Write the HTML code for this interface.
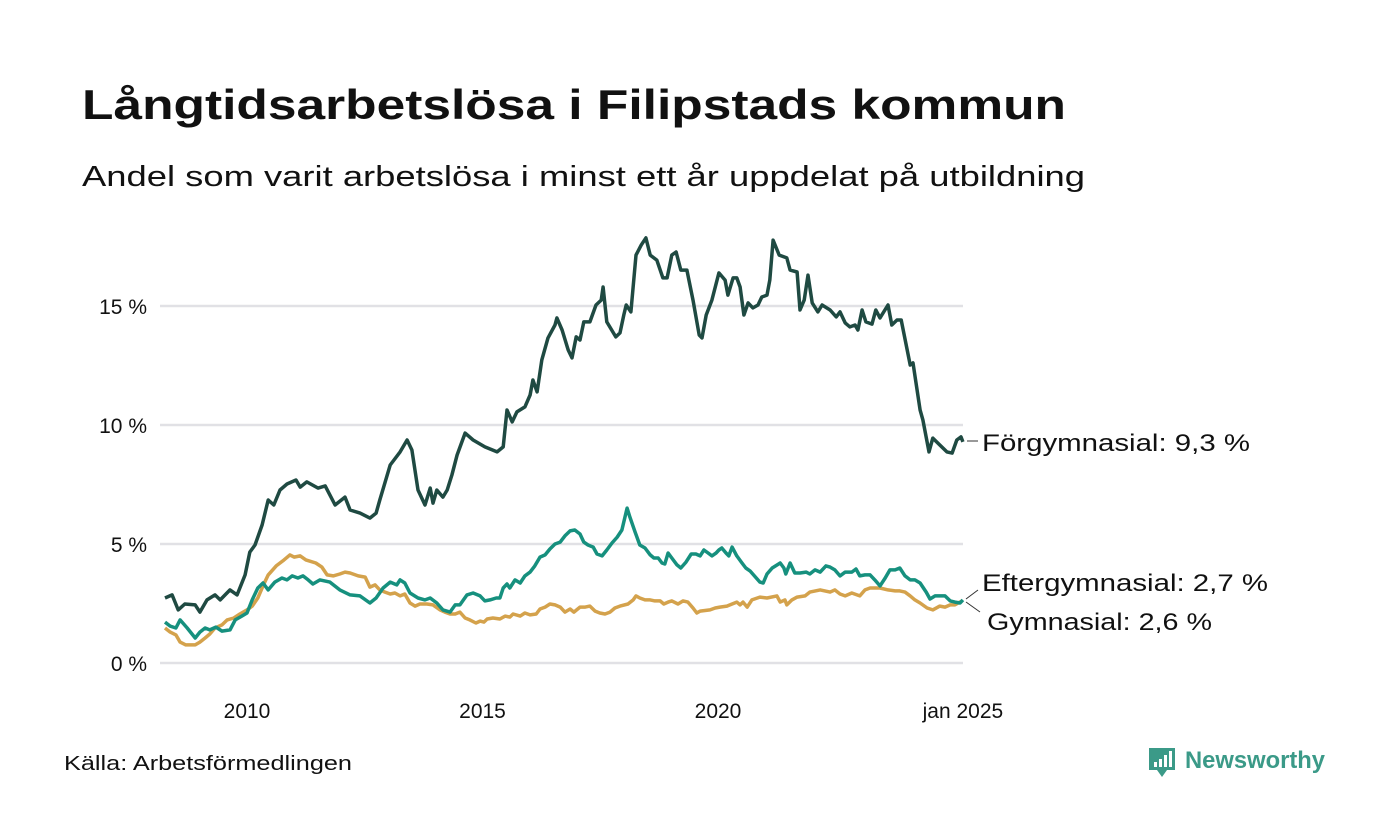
<!DOCTYPE html>
<html><head><meta charset="utf-8"><style>
html,body{margin:0;padding:0;background:#fff}
svg{display:block;font-family:"Liberation Sans",sans-serif}
</style></head><body>
<svg id="chart" width="1400" height="840" viewBox="0 0 1400 840">
<text x="82" y="119" font-size="42" font-weight="bold" fill="#111" textLength="984" lengthAdjust="spacingAndGlyphs">Långtidsarbetslösa i Filipstads kommun</text>
<text x="82" y="186" font-size="29" fill="#111" textLength="1003" lengthAdjust="spacingAndGlyphs">Andel som varit arbetslösa i minst ett år uppdelat på utbildning</text>
<g id="grid"></g>
<g id="yticks"></g>
<g id="xticks"></g>
<g id="lines"></g>
<g font-size="24" fill="#111">
<line x1="967" y1="441" x2="978" y2="441" stroke="#333" stroke-width="1"/>
<polyline points="966,599 978,590" fill="none" stroke="#333" stroke-width="1"/>
<polyline points="966,602 980,612" fill="none" stroke="#333" stroke-width="1"/>
<text x="982" y="451" textLength="268" lengthAdjust="spacingAndGlyphs">Förgymnasial: 9,3 %</text>
<text x="982" y="591" textLength="286" lengthAdjust="spacingAndGlyphs">Eftergymnasial: 2,7 %</text>
<text x="987" y="630" textLength="225" lengthAdjust="spacingAndGlyphs">Gymnasial: 2,6 %</text>
</g>
<text x="64" y="770" font-size="20" fill="#111" textLength="288" lengthAdjust="spacingAndGlyphs">Källa: Arbetsförmedlingen</text>
<g>
<path d="M1149 748 h26 v22 h-8 l-5 7 l-5 -7 h-8 z" fill="#3b9a88"/>
<rect x="1154" y="762" width="3" height="5" fill="#fff"/><rect x="1159" y="759" width="3" height="8" fill="#fff"/><rect x="1164" y="755" width="3" height="12" fill="#fff"/><rect x="1169" y="751" width="3" height="16" fill="#fff"/>
<text x="1185" y="768" font-size="24" font-weight="bold" fill="#3b9a88" textLength="140" lengthAdjust="spacingAndGlyphs">Newsworthy</text>
</g>
</svg>
<script>
const yTicks=[0,5,10,15];
const yTickLabels=["0 %","5 %","10 %","15 %"];
const xTicks=[2010,2015,2020,2025.2];
const xTickLabels=["2010","2015","2020","jan 2025"];
const forT=[2008.26,2008.41,2008.54,2008.68,2008.90,2009.00,2009.15,2009.32,2009.43,2009.64,2009.79,2009.96,2010.06,2010.17,2010.32,2010.45,2010.57,2010.70,2010.85,2011.04,2011.13,2011.27,2011.51,2011.66,2011.87,2012.08,2012.19,2012.40,2012.61,2012.74,2012.82,2013.04,2013.25,2013.40,2013.50,2013.63,2013.78,2013.89,2013.95,2014.03,2014.16,2014.25,2014.35,2014.46,2014.63,2014.80,2015.05,2015.31,2015.44,2015.52,2015.63,2015.73,2015.90,2016.01,2016.07,2016.16,2016.26,2016.39,2016.54,2016.58,2016.69,2016.82,2016.90,2016.99,2017.07,2017.15,2017.28,2017.41,2017.52,2017.56,2017.64,2017.83,2017.92,2018.00,2018.05,2018.15,2018.26,2018.37,2018.47,2018.56,2018.70,2018.83,2018.92,2019.02,2019.11,2019.21,2019.34,2019.47,2019.60,2019.66,2019.75,2019.87,2020.02,2020.15,2020.21,2020.32,2020.40,2020.47,2020.55,2020.64,2020.74,2020.85,2020.93,2021.04,2021.10,2021.17,2021.30,2021.46,2021.53,2021.68,2021.74,2021.83,2021.91,2022.00,2022.12,2022.21,2022.38,2022.51,2022.59,2022.70,2022.80,2022.91,2022.97,2023.06,2023.14,2023.27,2023.35,2023.44,2023.61,2023.69,2023.80,2023.89,2024.08,2024.14,2024.29,2024.35,2024.48,2024.56,2024.71,2024.86,2024.97,2025.07,2025.16,2025.20];
const forV=[2.73,2.86,2.23,2.48,2.44,2.14,2.65,2.86,2.65,3.07,2.86,3.70,4.66,4.96,5.80,6.85,6.64,7.27,7.52,7.69,7.39,7.61,7.35,7.44,6.64,6.97,6.43,6.30,6.09,6.30,6.85,8.32,8.87,9.37,8.95,7.27,6.64,7.35,6.72,7.27,6.97,7.27,7.90,8.74,9.66,9.37,9.08,8.87,9.08,10.63,10.13,10.55,10.76,11.26,11.89,11.39,12.73,13.66,14.20,14.50,13.99,13.15,12.82,13.70,13.57,14.33,14.33,15.04,15.25,15.80,14.33,13.70,13.87,14.62,15.04,14.75,17.14,17.56,17.86,17.14,16.93,16.18,16.18,17.14,17.27,16.51,16.51,15.25,13.78,13.66,14.62,15.25,16.39,16.09,15.46,16.18,16.18,15.80,14.62,15.13,14.92,15.04,15.38,15.46,16.09,17.77,17.14,17.02,16.51,16.43,14.83,15.25,16.30,15.13,14.75,15.04,14.83,14.54,14.75,14.29,14.12,14.20,13.99,14.83,14.33,14.24,14.83,14.50,15.04,14.20,14.41,14.41,12.52,12.61,10.63,10.21,8.87,9.45,9.16,8.87,8.82,9.37,9.50,9.29];
const eftT=[2008.26,2008.37,2008.49,2008.58,2008.73,2008.90,2009.00,2009.11,2009.21,2009.34,2009.47,2009.64,2009.75,2009.89,2010.00,2010.11,2010.23,2010.34,2010.45,2010.59,2010.74,2010.85,2010.96,2011.08,2011.19,2011.30,2011.40,2011.55,2011.76,2011.97,2012.19,2012.40,2012.61,2012.74,2012.89,2013.04,2013.18,2013.25,2013.35,2013.46,2013.63,2013.78,2013.89,2014.03,2014.16,2014.31,2014.42,2014.52,2014.67,2014.80,2014.95,2015.05,2015.16,2015.29,2015.37,2015.44,2015.52,2015.58,2015.69,2015.80,2015.90,2016.01,2016.11,2016.22,2016.33,2016.43,2016.54,2016.65,2016.75,2016.86,2016.96,2017.07,2017.15,2017.24,2017.35,2017.43,2017.54,2017.64,2017.75,2017.86,2017.96,2018.07,2018.13,2018.24,2018.34,2018.45,2018.56,2018.64,2018.73,2018.81,2018.87,2018.94,2019.02,2019.13,2019.21,2019.32,2019.43,2019.53,2019.62,2019.70,2019.79,2019.87,2019.96,2020.02,2020.08,2020.17,2020.23,2020.30,2020.40,2020.51,2020.59,2020.68,2020.89,2020.96,2021.04,2021.15,2021.32,2021.40,2021.44,2021.53,2021.63,2021.74,2021.87,2021.95,2022.06,2022.17,2022.29,2022.38,2022.48,2022.59,2022.70,2022.84,2022.93,2023.01,2023.12,2023.23,2023.33,2023.44,2023.55,2023.65,2023.76,2023.86,2023.97,2024.08,2024.18,2024.29,2024.42,2024.50,2024.61,2024.82,2024.93,2025.03,2025.14,2025.20];
const eftV=[1.72,1.55,1.47,1.81,1.47,1.05,1.30,1.47,1.39,1.51,1.34,1.39,1.81,1.97,2.10,2.65,3.15,3.36,3.07,3.40,3.57,3.49,3.66,3.57,3.66,3.49,3.32,3.49,3.40,3.07,2.86,2.82,2.52,2.73,3.15,3.40,3.28,3.49,3.36,2.94,2.73,2.65,2.73,2.52,2.23,2.14,2.44,2.44,2.86,2.94,2.82,2.61,2.65,2.73,2.73,3.15,3.32,3.15,3.49,3.36,3.66,3.82,4.08,4.45,4.54,4.79,5.00,5.08,5.34,5.55,5.59,5.42,5.08,4.96,4.87,4.58,4.50,4.75,5.04,5.29,5.59,6.51,6.13,5.50,4.96,4.83,4.54,4.41,4.41,4.20,4.16,4.62,4.41,4.12,3.99,4.24,4.58,4.58,4.50,4.75,4.62,4.50,4.62,4.75,4.83,4.62,4.50,4.87,4.50,4.20,3.99,3.87,3.40,3.36,3.74,3.99,4.20,3.99,3.74,4.20,3.78,3.78,3.82,3.74,3.91,3.82,4.08,4.03,3.91,3.66,3.82,3.82,3.95,3.66,3.70,3.70,3.49,3.24,3.57,3.91,3.91,3.99,3.66,3.49,3.49,3.36,2.98,2.69,2.82,2.82,2.61,2.56,2.52,2.65];
const gymT=[2008.26,2008.37,2008.49,2008.58,2008.70,2008.90,2009.00,2009.11,2009.21,2009.32,2009.47,2009.58,2009.72,2009.85,2010.00,2010.11,2010.23,2010.34,2010.45,2010.62,2010.76,2010.91,2011.00,2011.13,2011.25,2011.46,2011.59,2011.70,2011.83,2011.97,2012.08,2012.19,2012.36,2012.51,2012.61,2012.72,2012.82,2012.93,2013.04,2013.14,2013.25,2013.35,2013.46,2013.57,2013.67,2013.82,2013.95,2014.10,2014.20,2014.31,2014.42,2014.52,2014.63,2014.73,2014.86,2014.95,2015.03,2015.10,2015.22,2015.37,2015.48,2015.58,2015.65,2015.80,2015.90,2016.01,2016.14,2016.22,2016.33,2016.43,2016.54,2016.65,2016.75,2016.86,2016.94,2017.07,2017.18,2017.28,2017.39,2017.49,2017.60,2017.71,2017.81,2017.92,2018.09,2018.20,2018.26,2018.34,2018.45,2018.56,2018.66,2018.77,2018.85,2018.94,2019.02,2019.15,2019.26,2019.36,2019.47,2019.55,2019.62,2019.83,2019.94,2020.04,2020.19,2020.30,2020.40,2020.47,2020.53,2020.62,2020.72,2020.89,2021.04,2021.25,2021.32,2021.42,2021.46,2021.57,2021.68,2021.85,2021.95,2022.17,2022.38,2022.48,2022.59,2022.70,2022.84,2023.01,2023.12,2023.23,2023.44,2023.61,2023.76,2023.86,2023.97,2024.08,2024.18,2024.29,2024.44,2024.56,2024.71,2024.82,2024.93,2025.03,2025.18];
const gymV=[1.47,1.30,1.18,0.88,0.76,0.76,0.88,1.05,1.22,1.47,1.60,1.81,1.89,2.06,2.23,2.39,2.73,3.24,3.70,4.08,4.29,4.54,4.45,4.50,4.33,4.20,4.03,3.70,3.66,3.74,3.82,3.78,3.66,3.61,3.19,3.28,3.07,2.98,2.90,2.94,2.82,2.90,2.52,2.39,2.48,2.48,2.44,2.23,2.14,2.06,2.06,2.14,1.89,1.81,1.68,1.76,1.72,1.85,1.89,1.85,1.97,1.93,2.06,1.97,2.10,2.02,2.06,2.27,2.35,2.48,2.44,2.35,2.14,2.27,2.14,2.35,2.35,2.39,2.18,2.10,2.06,2.14,2.31,2.39,2.48,2.65,2.82,2.73,2.65,2.65,2.61,2.61,2.48,2.56,2.61,2.48,2.61,2.56,2.31,2.10,2.18,2.23,2.31,2.35,2.39,2.48,2.56,2.44,2.56,2.35,2.65,2.77,2.73,2.82,2.56,2.65,2.44,2.65,2.77,2.82,2.98,3.07,2.98,3.07,2.90,2.82,2.94,2.82,3.07,3.15,3.15,3.07,3.03,3.03,2.98,2.82,2.65,2.52,2.31,2.23,2.39,2.35,2.44,2.44,2.61];

const NS='http://www.w3.org/2000/svg';
const xS=t=>247+(t-2010)*47.1;
const yS=v=>663-v*23.8;
const grid=document.getElementById('grid'),yg=document.getElementById('yticks'),xg=document.getElementById('xticks'),lg=document.getElementById('lines');
yTicks.forEach((v,i)=>{
  const l=document.createElementNS(NS,'line');
  l.setAttribute('x1',160);l.setAttribute('x2',963);
  l.setAttribute('y1',yS(v));l.setAttribute('y2',yS(v));
  l.setAttribute('stroke','#e1e1e5');l.setAttribute('stroke-width','2.5');
  
  
  grid.appendChild(l);
  const t=document.createElementNS(NS,'text');
  t.setAttribute('x',147);t.setAttribute('y',yS(v)+8);
  t.setAttribute('text-anchor','end');t.setAttribute('font-size','21');t.setAttribute('fill','#111');
  t.textContent=yTickLabels[i];
  
  
  yg.appendChild(t);
});
xTicks.forEach((v,i)=>{
  const t=document.createElementNS(NS,'text');
  t.setAttribute('x',xS(v));t.setAttribute('y',718);
  t.setAttribute('text-anchor','middle');t.setAttribute('font-size','21');t.setAttribute('fill','#111');
  t.textContent=xTickLabels[i];
  
  
  xg.appendChild(t);
});
function draw(T,V,color,name){
  const p=document.createElementNS(NS,'polyline');
  p.setAttribute('points',T.map((t,i)=>xS(t).toFixed(1)+','+yS(V[i]).toFixed(1)).join(' '));
  p.setAttribute('fill','none');p.setAttribute('stroke',color);p.setAttribute('stroke-width','3.5');
  p.setAttribute('stroke-linejoin','round');
  
  
  lg.appendChild(p);
}
draw(gymT,gymV,'#d4a24c','line-gymnasial');
draw(eftT,eftV,'#16907e','line-eftergymnasial');
draw(forT,forV,'#1f4a42','line-forgymnasial');
</script>
</body></html>
